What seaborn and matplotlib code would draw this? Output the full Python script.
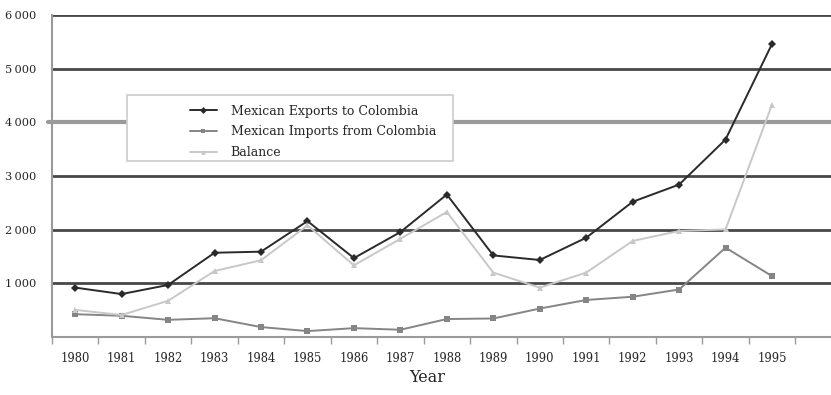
import matplotlib
matplotlib.use("Agg")
import matplotlib.pyplot as plt
import seaborn as sns
import pandas as pd
from matplotlib.ticker import FixedLocator, FuncFormatter
from matplotlib.patches import Rectangle

years = list(range(1980, 1996))
exports = [920, 800, 970, 1570, 1590, 2160, 1470, 1955, 2655, 1520, 1435, 1850, 2520, 2840, 3680, 5460]
imports = [425, 395, 320, 350, 185, 110, 165, 135, 335, 345, 530, 690, 750, 885, 1665, 1135]
balance = [505, 410, 675, 1230, 1430, 2080, 1335, 1830, 2330, 1200, 920, 1200, 1790, 1975, 2005, 4330]
series_names = ["Mexican Exports to Colombia", "Mexican Imports from Colombia", "Balance"]
y_ticks = [0, 1000, 2000, 3000, 4000, 5000, 6000]

df = pd.DataFrame({
    "Year": years * 3,
    "Value": exports + imports + balance,
    "Series": [series_names[0]] * 16 + [series_names[1]] * 16 + [series_names[2]] * 16,
})

sns.set_theme(style="white")
plt.rcParams["font.family"] = ["DejaVu Serif"]

fig = plt.figure(figsize=(8.31, 3.95), dpi=100)
ax = fig.add_axes([52 / 831, 1 - 337 / 395, 779 / 831, (337 - 15) / 395])

def axx(px):
    return (px - 52) / 779

def axy(py):
    return (337 - py) / 322

# gridlines
for v in y_ticks[1:]:
    if v == 4000:
        ax.axhline(v, xmin=-0.005, color="#9a9a9a", lw=3.0, zorder=0, clip_on=False)
    else:
        ax.axhline(v, color="#474747", lw=2.0, zorder=0)

palette = {series_names[0]: "#2a2a2a", series_names[1]: "#858585", series_names[2]: "#c8c8c8"}
markers = {series_names[0]: "D", series_names[1]: "s", series_names[2]: "^"}
sns.lineplot(data=df, x="Year", y="Value", hue="Series", style="Series",
             palette=palette, markers=markers, dashes=False, lw=1.4,
             markersize=4.2, markeredgewidth=0, ax=ax, zorder=3)

ax.set_xlim(1979.5, 1996.27)
ax.set_ylim(0, 6000)

ax.xaxis.set_major_locator(FixedLocator(years))
ax.set_xticklabels([str(y) for y in years], fontsize=8.3)
ax.xaxis.set_minor_locator(FixedLocator([y + 0.5 for y in range(1979, 1997)]))
ax.tick_params(axis="x", which="major", length=0, pad=11)
ax.tick_params(axis="x", which="minor", length=5, width=1, color="#999999", bottom=True, direction="out")

ax.yaxis.set_major_locator(FixedLocator(y_ticks))
ax.yaxis.set_major_formatter(FuncFormatter(lambda v, p: "" if v == 0 else f"{int(v)//1000}\u2009000"))
ax.tick_params(axis="y", length=0, pad=11, labelsize=8.2)

for s in ["top", "right"]:
    ax.spines[s].set_visible(False)
for s in ["left", "bottom"]:
    ax.spines[s].set_color("#9a9a9a")
    ax.spines[s].set_linewidth(1.5)

ax.set_xlabel("Year", fontsize=11.5)
ax.xaxis.set_label_coords(axx(427), axy(377), transform=ax.transAxes)
ax.xaxis.label.set_va("center")
ax.set_ylabel("")

# legend box
box = Rectangle((axx(127), axy(161)), axx(453) - axx(127), axy(95) - axy(161),
                transform=ax.transAxes, facecolor="white", edgecolor="#cccccc",
                lw=1.2, zorder=4)
ax.add_patch(box)

leg = ax.legend(loc="center left", bbox_to_anchor=(axx(190), axy(131.8)),
                frameon=False, fontsize=9, handlelength=2.15, borderpad=0,
                labelspacing=0.62, handletextpad=1.1, borderaxespad=0)
leg.set_zorder(5)
for h in leg.legend_handles:
    h.set_markersize(3.5)

fig.savefig("out.png", dpi=100)
